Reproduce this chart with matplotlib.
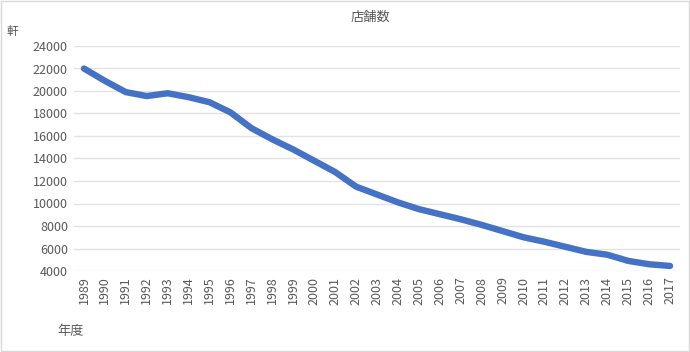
import numpy as np
import matplotlib.pyplot as plt

plt.rcParams['font.family'] = ['Noto Sans CJK JP', 'DejaVu Sans']

# ---------------- DATA ---------------- #

YEARS = list(range(1989, 2018))
STORES = [22000, 20900, 19900, 19550, 19800, 19450, 19000, 18100, 16700,
          15700, 14800, 13800, 12800, 11500, 10800, 10100, 9500, 9050,
          8600, 8100, 7550, 7000, 6600, 6150, 5700, 5450, 4900, 4600, 4450]

TITLE = "店舗数"
Y_UNIT = "軒"
X_LABEL = "年度"

TEXT = "#595959"
LINE = "#4472C4"
GRID = "#e3e3e3"

# ---------------- PLOT ---------------- #

fig = plt.figure(figsize=(6.9, 3.52), dpi=100)
ax = fig.add_axes([73.5 / 690, 1 - 271 / 352, (680.5 - 73.5) / 690, (271 - 46) / 352])

X = np.arange(len(YEARS))
ax.plot(X, STORES, color=LINE, linewidth=4.6, solid_capstyle="round",
        solid_joinstyle="round", zorder=3)

ax.set_xlim(-0.5, len(YEARS) - 0.5)
ax.set_ylim(4000, 24000)
ax.set_yticks(range(4000, 24001, 2000))
ax.set_xticks(X)
ax.set_xticklabels([str(y) for y in YEARS], rotation=90)

ax.grid(axis="y", color=GRID, linewidth=1)
ax.set_axisbelow(True)
for s in ax.spines.values():
    s.set_visible(False)
ax.tick_params(length=0, colors=TEXT, labelsize=9, pad=4)

fig.text(370 / 690, 1 - 17 / 352, TITLE, ha="center", va="center",
         fontsize=9.5, color=TEXT)
fig.text(12 / 690, 1 - 31 / 352, Y_UNIT, ha="center", va="center",
         fontsize=8.5, color=TEXT)
fig.text(71 / 690, 1 - 332 / 352, X_LABEL, ha="center", va="center",
         fontsize=9.5, color=TEXT)

fig.add_artist(plt.Rectangle((0.001, 0.002), 0.997, 0.996, transform=fig.transFigure,
                             fill=False, edgecolor="#d9d9d9", linewidth=1))

fig.savefig("out.png", dpi=100)
